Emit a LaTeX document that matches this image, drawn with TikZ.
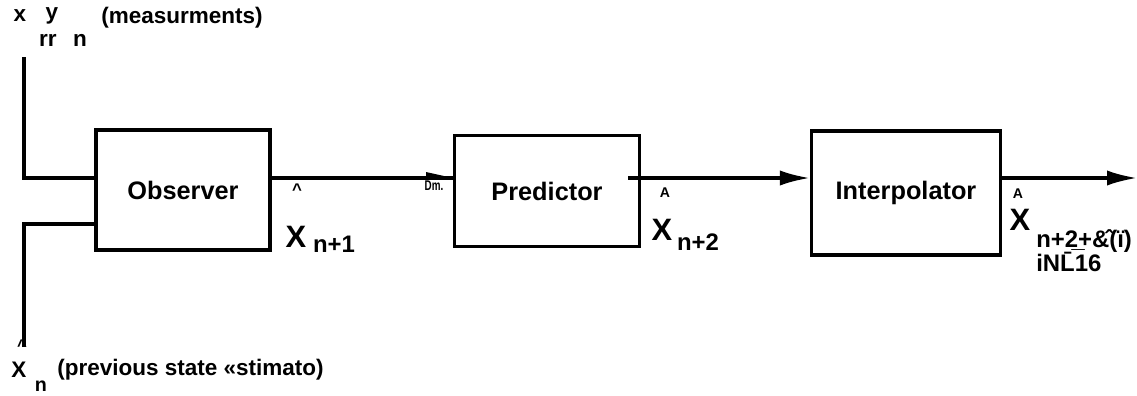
\documentclass[tikz,border=0pt]{standalone}
\usepackage{fontspec}
\setmainfont{Liberation Sans}
\usetikzlibrary{arrows.meta}
\tikzset{
	blockbox/.style={draw, line width=2.4pt, font=\fontsize{18}{20}\selectfont\bfseries, inner sep=0pt},
	sig/.style={line width=2.2pt},
	lbl/.style={font=\fontsize{16}{18}\selectfont\bfseries, inner sep=0pt},
	bigx/.style={font=\fontsize{22}{24}\selectfont\bfseries, inner sep=0pt}
}
\begin{document}
\begin{tikzpicture}[x=0.025cm, y=-0.025cm, line join=miter, >={Latex[length=0.75cm, width=0.38cm]}]
					\useasboundingbox (0,0) rectangle (1137,395);
					% blocks
					\node[blockbox, minimum width=4.35cm, minimum height=3cm] (obs) at (183,190) {Observer};
					\node[blockbox, minimum width=4.62cm, minimum height=2.78cm] (pred) at (547,191) {Predictor};
					\node[blockbox, minimum width=4.72cm, minimum height=3.1cm] (interp) at (906,193) {Interpolator};
					% inputs
					\coordinate (meas) at (24,57);
					\coordinate (prev) at (24,347);
					\draw[sig] (meas) |- (obs.west |- 0,178);
					\draw[sig] (prev) |- (obs.west |- 0,224);
					% signal path
					\draw[sig] (obs.east |- 0,178) -- (pred.west |- 0,178);
					\fill (426,172) -- (pred.west |- 0,178) -- (426,177) -- cycle;
					\draw[sig, ->] (628,178) -- (interp.west |- 0,178);
					\coordinate (out) at (1137,178);
					\draw[sig, ->] (interp.east |- 0,178) -- (out);
					% labels
					\node[lbl] (x1) at (20,16) {x};
					\node[lbl] (y1) at (52,16) {y};
					\node[lbl] (rr) at (48,40) {rr};
					\node[lbl] (n1) at (80,40) {n};
					\node[lbl] (mlbl) at (182,18) {(measurments)};
					\node[lbl, font=\fontsize{12}{12}\selectfont\bfseries] (hat1) at (297,190) {\^{}};
					\node[bigx] (xn1) at (296,237) {X};
					\node[lbl, font=\fontsize{17}{18}\selectfont\bfseries] (sub1) at (334,244) {n+1};
					\node[lbl, font=\fontsize{10}{10}\selectfont\bfseries, xscale=0.7] (dm) at (434,186) {Dm.};
					\node[lbl, font=\fontsize{10}{10}\selectfont\bfseries] (hat2) at (665,193) {A};
					\node[bigx] (xn2) at (662,230) {X};
					\node[lbl, font=\fontsize{17}{18}\selectfont\bfseries] (sub2) at (698,242) {n+2};
					\node[lbl, font=\fontsize{10}{10}\selectfont\bfseries] (hat3) at (1018,194) {A};
					\node[bigx] (xn3) at (1020,220) {X};
					\node[lbl, font=\fontsize{17}{18}\selectfont\bfseries, anchor=west] (sub3) at (1036,241) {n+\b{2}+\^{\&}(\"{\i})};
					\node[lbl, font=\fontsize{17}{18}\selectfont\bfseries, anchor=west] (sub4) at (1036,262) {iN\=L16};
					\node[lbl, font=\fontsize{12}{12}\selectfont\bfseries] (hat4) at (22,346) {\^{}};
					\node[lbl] (xn) at (19,370) {X};
					\node[lbl, font=\fontsize{14}{14}\selectfont\bfseries] (n2) at (41,386) {n};
					\node[lbl, anchor=west] (plbl) at (57,370) {(previous state «stimato)};
				\end{tikzpicture}
\end{document}
